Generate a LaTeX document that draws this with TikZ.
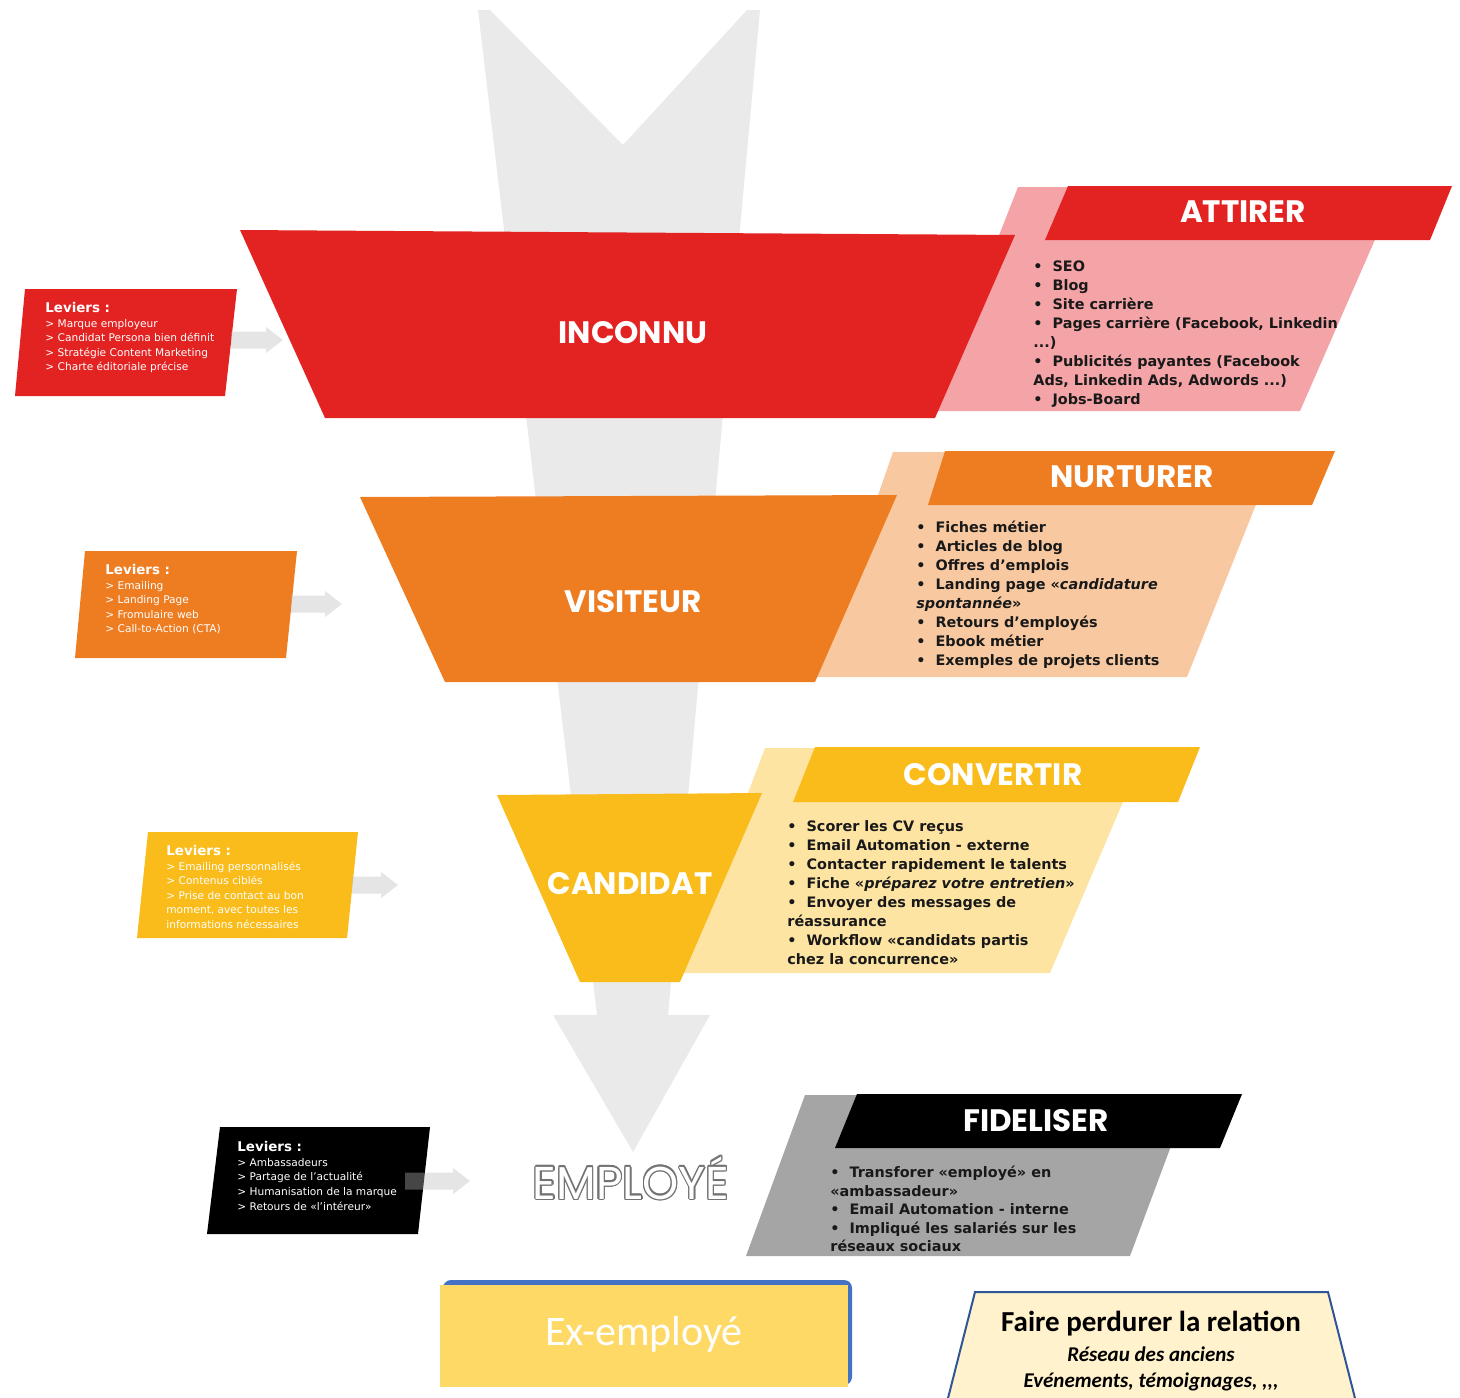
\documentclass[tikz,border=0pt]{standalone}
\usepackage{fontspec}
\setmainfont{DejaVu Sans}
\newfontfamily\titrefont{Poppins}
\newfontfamily\calfont{Carlito}
\usetikzlibrary{arrows.meta}

\definecolor{rouge}{HTML}{E32322}
\definecolor{rose}{HTML}{F4A3A6}
\definecolor{orangef}{HTML}{EE7D22}
\definecolor{peche}{HTML}{F8C9A1}
\definecolor{jaune}{HTML}{F9BC1A}
\definecolor{jaunep}{HTML}{FDE4A3}
\definecolor{grisf}{HTML}{A5A5A5}
\definecolor{fond}{HTML}{EAEAEA}
\definecolor{dore}{HTML}{FFD966}
\definecolor{bleu}{HTML}{4472C4}
\definecolor{creme}{HTML}{FFF2CC}
\definecolor{bleuf}{HTML}{2F5597}

\newcommand\puce{\textbullet\hspace{5pt}}

\tikzset{
  titre/.style={font=\titrefont\bfseries\fontsize{15.5}{15.5}\selectfont, text=white, inner sep=0},
  liste/.style={font=\bfseries\fontsize{7.2}{9.5}\selectfont, align=left, anchor=north west, inner sep=0, text=black!90},
  levier/.style={font=\fontsize{5.3}{7.3}\selectfont, align=left, anchor=north west, inner sep=0, text=white},
  fleche/.style={line width=8.5pt, draw=black!27, -{Triangle[length=8.5pt,width=12.5pt]}},
  emploi/.style={font=\titrefont\fontsize{23}{23}\selectfont, inner sep=0}
}

\begin{document}
\begin{tikzpicture}[x=0.5pt,y=-0.5pt]
		\useasboundingbox (0,0) rectangle (1460,1397);

		% la grande fleche du fond
		\fill[fond] (478,10) -- (490,10) -- (623,145) -- (747,10) -- (760,10) -- (668,1015) -- (710,1015)
			-- (633,1152) -- (553,1015) -- (597,1015) -- cycle;

		% les panneaux de droite
		\fill[rose] (1018,187) -- (1398,187) -- (1300,411) -- (930,411) -- cycle;
		\fill[peche] (893,452) -- (1277,452) -- (1187,677) -- (815,677) -- cycle;
		\fill[jaunep] (765,748) -- (1146,748) -- (1050,973) -- (680,973) -- cycle;
		\fill[grisf] (805,1095) -- (1190,1095) -- (1130,1256) -- (746,1256) -- cycle;

		% l'entonnoir
		\fill[rouge] (240,230) -- (1015,235) -- (935,418) -- (325,418) -- cycle;
		\fill[orangef] (360,497) -- (897,495) -- (815,682) -- (445,682) -- cycle;
		\fill[jaune] (497,795) -- (762,793) -- (680,982) -- (580,982) -- cycle;

		\fill[rouge] (1068,186) -- (1452,186) -- (1430,240) -- (1045,240) -- cycle;
		\fill[orangef] (945,451) -- (1335,451) -- (1312,505) -- (928,505) -- cycle;
		\fill[jaune] (815,747) -- (1200,747) -- (1178,802) -- (793,802) -- cycle;
		\fill[black] (857,1094) -- (1242,1094) -- (1220,1148) -- (835,1148) -- cycle;

		\node[titre] (inconnu) at (633,333) {INCONNU};
		\node[titre] (visiteur) at (633,602) {VISITEUR};
		\node[titre] (candidat) at (630,884) {CANDIDAT};
		\node[titre] (attirer) at (1243,212) {ATTIRER};
		\node[titre] (nurturer) at (1132,477) {NURTURER};
		\node[titre] (convertir) at (993,775) {CONVERTIR};
		\node[titre] (fideliser) at (1036,1121) {FIDELISER};

		\foreach \a in {0,30,...,330}
			\node[emploi, text=black!55, shift={(\a:0.7pt)}] (emp\a) at (631,1178) {EMPLOYÉ};
		\node[emploi, text=white] (employe) at (631,1178) {EMPLOYÉ};

		\node[liste] (l-attirer) at (1033,260) {\puce SEO\\ \puce Blog\\ \puce Site carrière\\
			\puce Pages carrière (Facebook, Linkedin\\ ...)\\ \puce Publicités payantes (Facebook\\
			Ads, Linkedin Ads, Adwords ...)\\ \puce Jobs-Board};
		\node[liste] (l-nurturer) at (916,521) {\puce Fiches métier\\ \puce Articles de blog\\
			\puce Offres d’emplois\\ \puce Landing page «\textit{candidature}\\ \textit{spontannée}»\\
			\puce Retours d’employés\\ \puce Ebook métier\\ \puce Exemples de projets clients};
		\node[liste] (l-convertir) at (787,820) {\puce Scorer les CV reçus\\ \puce Email Automation - externe\\
			\puce Contacter rapidement le talents\\ \puce Fiche «\textit{préparez votre entretien}»\\
			\puce Envoyer des messages de\\ réassurance\\ \puce Workflow «candidats partis\\
			chez la concurrence»};
		\node[liste, font=\bfseries\fontsize{7.2}{9.2}\selectfont] (l-fideliser) at (830,1166)
			{\puce Transforer «employé» en\\ «ambassadeur»\\
			\puce Email Automation - interne\\ \puce Impliqué les salariés sur les\\ réseaux sociaux};

		% les leviers
		\fill[rouge] (25,289) -- (237,289) -- (225,396) -- (15,396) -- cycle;
		\fill[orangef] (85,551) -- (297,551) -- (286,658) -- (75,658) -- cycle;
		\fill[jaune] (148,832) -- (358,832) -- (347,938) -- (137,938) -- cycle;
		\fill[black] (220,1127) -- (430,1127) -- (418,1234) -- (207,1234) -- cycle;

		\node[levier] (lev1) at (45,302) {{\bfseries\fontsize{6.7}{8}\selectfont Leviers :}\\
			> Marque employeur\\ > Candidat Persona bien définit\\ > Stratégie Content Marketing\\
			> Charte éditoriale précise};
		\node[levier] (lev2) at (105,564) {{\bfseries\fontsize{6.7}{8}\selectfont Leviers :}\\
			> Emailing\\ > Landing Page\\ > Fromulaire web\\ > Call-to-Action (CTA)};
		\node[levier] (lev3) at (166,845) {{\bfseries\fontsize{6.7}{8}\selectfont Leviers :}\\
			> Emailing personnalisés\\ > Contenus ciblés\\ > Prise de contact au bon\\
			moment, avec toutes les\\ informations nécessaires};
		\node[levier] (lev4) at (237,1141) {{\bfseries\fontsize{6.7}{8}\selectfont Leviers :}\\
			> Ambassadeurs\\ > Partage de l’actualité\\ > Humanisation de la marque\\
			> Retours de «l’intéreur»};

		\coordinate (d1) at (231,340); \coordinate (a1) at (283,340);
		\coordinate (d2) at (291,604); \coordinate (a2) at (342,604);
		\coordinate (d3) at (352,885); \coordinate (a3) at (398,885);
		\coordinate (d4) at (405,1181); \coordinate (a4) at (470,1181);
		\begin{scope}[transparency group, opacity=0.38]
			\foreach \i in {1,...,4}
				\draw[fleche] (d\i) -- (a\i);
		\end{scope}

		% en bas
		\fill[bleu, rounded corners=4pt] (443,1280) rectangle (852,1385);
		\fill[dore] (440,1285) rectangle (848,1387);
		\node[font=\calfont\fontsize{21}{21}\selectfont, text=white] (ex) at (644,1334) {Ex-employé};

		\filldraw[fill=creme, draw=bleuf, line width=1pt] (975,1292) -- (1328,1292) -- (1358,1410) -- (945,1410) -- cycle;
		\node[font=\calfont\bfseries\fontsize{14.5}{14.5}\selectfont] (relation) at (1151,1324) {Faire perdurer la relation};
		\node[font=\calfont\bfseries\itshape\fontsize{10.5}{13}\selectfont, align=center, anchor=north] (anciens)
			at (1151,1340) {Réseau des anciens\\ Evénements, témoignages, ,,,};
\end{tikzpicture}
\end{document}
